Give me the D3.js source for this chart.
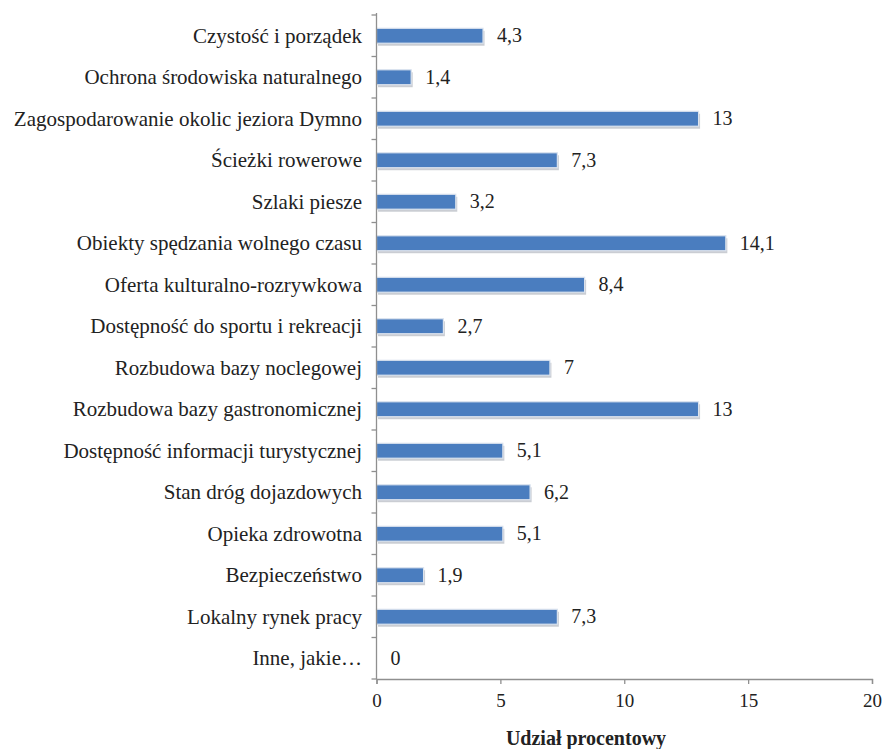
<!DOCTYPE html>
<html>
<head>
<meta charset="utf-8">
<script src="https://cdn.jsdelivr.net/npm/d3@7"></script>
<style>
  html, body { margin: 0; padding: 0; background: #fff; }
  svg { display: block; }
</style>
</head>
<body>
<svg id="chart" width="885" height="749"></svg>
<script>
const categories = [
  "Czystość i porządek",
  "Ochrona środowiska naturalnego",
  "Zagospodarowanie okolic jeziora Dymno",
  "Ścieżki rowerowe",
  "Szlaki piesze",
  "Obiekty spędzania wolnego czasu",
  "Oferta kulturalno-rozrywkowa",
  "Dostępność do sportu i rekreacji",
  "Rozbudowa bazy noclegowej",
  "Rozbudowa bazy gastronomicznej",
  "Dostępność informacji turystycznej",
  "Stan dróg dojazdowych",
  "Opieka zdrowotna",
  "Bezpieczeństwo",
  "Lokalny rynek pracy",
  "Inne, jakie…"
];
const values = [4.3, 1.4, 13, 7.3, 3.2, 14.1, 8.4, 2.7, 7, 13, 5.1, 6.2, 5.1, 1.9, 7.3, 0];
const xTicks = [0, 5, 10, 15, 20];
const xTitle = "Udział procentowy";

const FONT = "'Liberation Serif', 'Times New Roman', serif";
const TEXT = "#222";
const AXIS = "#8f8f8f";

const svg = d3.select("#chart");
const W = 885, H = 749;
const margin = { left: 376.5, right: 13, top: 15, bottom: 70 };

const x = d3.scaleLinear().domain([0, 20]).range([margin.left, W - margin.right]);
const y = d3.scaleBand().domain(categories)
  .range([margin.top, H - margin.bottom])
  .paddingInner(0.64).paddingOuter(0.32);

const fmt = v => String(v).replace(".", ",");

// grey shadow offset behind each bar
svg.append("g").selectAll("rect").data(values).join("rect")
  .attr("x", x(0) + 1.5)
  .attr("y", (d, i) => y(categories[i]) + 2.5)
  .attr("width", d => Math.max(0, x(d) - x(0)))
  .attr("height", y.bandwidth())
  .attr("fill", "#c4c8ce")
  .attr("opacity", d => d > 0 ? 0.9 : 0);

// bars
svg.append("g").selectAll("rect").data(values).join("rect")
  .attr("x", x(0))
  .attr("y", (d, i) => y(categories[i]))
  .attr("width", d => Math.max(0, x(d) - x(0)))
  .attr("height", y.bandwidth())
  .attr("fill", "#4a7dbf")
  .attr("stroke", "#dbe3ee")
  .attr("stroke-width", 1.2)
  .attr("opacity", d => d > 0 ? 1 : 0);

// value labels
svg.append("g").selectAll("text").data(values).join("text")
  .attr("x", d => x(d) + 14)
  .attr("y", (d, i) => y(categories[i]) + y.bandwidth() / 2)
  .attr("dy", "0.33em")
  .attr("font-family", FONT)
  .attr("font-size", 20)
  .attr("fill", TEXT)
  .text(d => fmt(d));

// category axis: line, ticks between bands, labels
const yAxisG = svg.append("g");
yAxisG.append("line")
  .attr("x1", x(0)).attr("x2", x(0))
  .attr("y1", margin.top - 2).attr("y2", H - margin.bottom)
  .attr("stroke", AXIS).attr("stroke-width", 1.3);
const bounds = d3.range(categories.length + 1)
  .map(i => margin.top + i * y.step());
yAxisG.selectAll("line.tk").data(bounds).join("line").attr("class", "tk")
  .attr("x1", x(0) - 5).attr("x2", x(0))
  .attr("y1", d => d).attr("y2", d => d)
  .attr("stroke", AXIS).attr("stroke-width", 1.3);

yAxisG.selectAll("text").data(categories).join("text")
  .attr("x", x(0) - 14.5)
  .attr("y", d => y(d) + y.bandwidth() / 2)
  .attr("dy", "0.33em")
  .attr("text-anchor", "end")
  .attr("font-family", FONT)
  .attr("font-size", 21)
  .attr("fill", TEXT)
  .text(d => d);

// value axis
const xAxis = d3.axisBottom(x).tickValues(xTicks).tickSize(5).tickPadding(10).tickFormat(d => d);
const xg = svg.append("g").attr("transform", `translate(0,${H - margin.bottom})`).call(xAxis);
xg.select(".domain").attr("stroke", AXIS).attr("stroke-width", 1.3);
xg.selectAll(".tick line").attr("stroke", AXIS).attr("stroke-width", 1.3);
xg.selectAll(".tick text")
  .attr("font-family", FONT).attr("font-size", 19).attr("fill", TEXT);

svg.append("text")
  .attr("x", 586)
  .attr("y", 745)
  .attr("text-anchor", "middle")
  .attr("font-family", FONT)
  .attr("font-size", 20)
  .attr("font-weight", "bold")
  .attr("fill", TEXT)
  .text(xTitle);
</script>
</body>
</html>
